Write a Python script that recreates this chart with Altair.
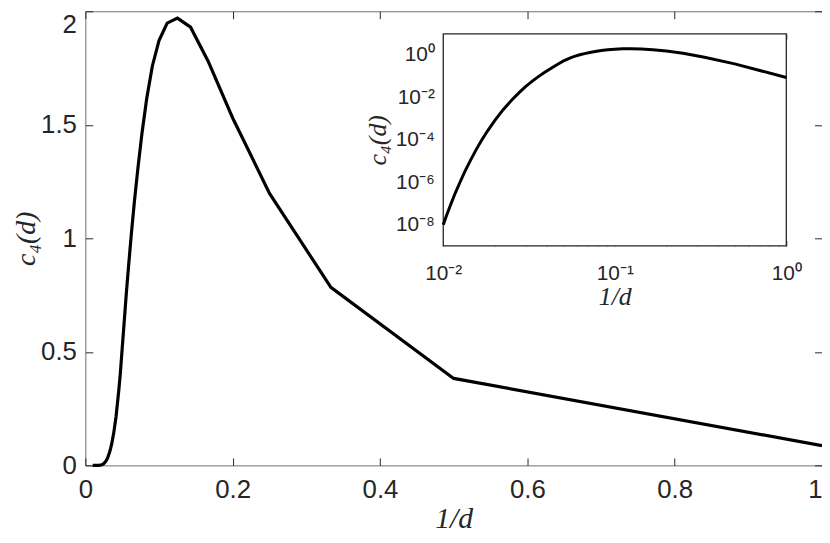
import altair as alt
import pandas as pd

# ---- data ----
d_vals = [1, 2, 3, 4, 5, 6, 7, 8, 9, 10, 11, 12, 13, 14, 15, 16, 17, 18, 19, 20,
          21, 22, 24, 26, 28, 30, 33, 36, 40, 45, 50, 55, 60, 65, 70, 75, 80, 85,
          90, 95, 100]
c4_vals = [0.087, 0.383, 0.784, 1.198, 1.53, 1.78, 1.93, 1.97, 1.948, 1.871,
           1.758, 1.616, 1.464, 1.31, 1.164, 1.021, 0.883, 0.754, 0.627, 0.514,
           0.41, 0.332, 0.214, 0.141, 0.093, 0.0617, 0.0331, 0.0174, 0.0074, 0.00251,
           8.3e-4, 2.75e-4, 9.1e-5, 2.95e-5, 9.5e-6, 3.1e-6, 9.8e-7, 3.2e-7,
           1.0e-7, 3.2e-8, 1e-8]

main_x_ticks = [0, 0.2, 0.4, 0.6, 0.8, 1]
main_y_ticks = [0, 0.5, 1, 1.5, 2]
inset_x_major = [0.01, 0.1, 1]
inset_x_ticks = [0.01, 0.02, 0.03, 0.04, 0.05, 0.06, 0.07, 0.08, 0.09,
                 0.1, 0.2, 0.3, 0.4, 0.5, 0.6, 0.7, 0.8, 0.9, 1]
inset_y_ticks = [1e-8, 1e-6, 1e-4, 1e-2, 1]

df = pd.DataFrame({"d": d_vals, "c4": c4_vals})
df["inv_d"] = 1.0 / df["d"]
df = df.sort_values("inv_d")

# ---- geometry ----
W, H = 743, 458
TK = 7.5           # main tick length
IL, IR = 361, 707  # inset x range (px within plot)
IT, IB = 22.7, 236.7  # inset y range
ITK = 5.5

AX = "#262626"
SANS = "Liberation Sans"
SERIF = "Liberation Serif"

mx = alt.Scale(domain=[0, 1], nice=False, zero=False)
my = alt.Scale(domain=[0, 2], nice=False, zero=False)
ix = alt.Scale(type="log", domain=[0.01, 1], range=[IL, IR], nice=False)
iy = alt.Scale(type="log", domain=[1e-9, 10], range=[IB, IT], nice=False)

base = alt.Chart(df)

# main curve with labelled axes (ticks drawn inward by the offset)
main = base.mark_line(color="black", strokeWidth=3.2).encode(
    x=alt.X("inv_d:Q", scale=mx, axis=alt.Axis(
        orient="bottom", values=main_x_ticks, format="~g", offset=-TK, tickSize=TK,
        domain=False, grid=False, labelPadding=11, tickColor=AX, labelFlush=False,
        labelAlign={"condition": {"test": "datum.value == 1", "value": "right"}, "value": "center"},
        labelFont=SANS, labelFontSize=26, labelColor=AX,
        title="1/d", titleFont=SERIF, titleFontStyle="italic", titleFontWeight="normal",
        titleFontSize=30, titleColor=AX, titlePadding=2)),
    y=alt.Y("c4:Q", scale=my, axis=alt.Axis(
        orient="left", values=main_y_ticks, format="~g", offset=-TK, tickSize=TK,
        domain=False, grid=False, labelPadding=9, tickColor=AX, labelFlush=False,
        labelBaseline={"condition": {"test": "datum.value == 2", "value": "top"}, "value": "middle"},
        labelFont=SANS, labelFontSize=26, labelColor=AX,
        title="c₄(d)", titleFont=SERIF, titleFontStyle="italic", titleFontWeight="normal",
        titleFontSize=28, titleColor=AX, titlePadding=0)),
)

# mirror ticks on top / right of main plot
main_mirror = base.mark_line(opacity=0).encode(
    x=alt.X("inv_d:Q", scale=mx, axis=alt.Axis(
        orient="bottom", values=main_x_ticks, offset=-H, tickSize=TK, labels=False,
        domain=False, grid=False, tickColor=AX, title=None)),
    y=alt.Y("c4:Q", scale=my, axis=alt.Axis(
        orient="left", values=main_y_ticks, offset=-W, tickSize=TK, labels=False,
        domain=False, grid=False, tickColor=AX, title=None)),
)

x_lab = ("datum.value == 0.01 ? '10⁻²' : datum.value == 0.1 ? '10⁻¹' : "
         "datum.value == 1 ? '10⁰' : ''")
y_lab = ("datum.value == 1e-8 ? '10⁻⁸' : datum.value == 1e-6 ? '10⁻⁶' : "
         "datum.value == 1e-4 ? '10⁻⁴' : datum.value == 1e-2 ? '10⁻²' : "
         "datum.value == 1 ? '10⁰' : ''")

frame = alt.Chart(pd.DataFrame({"k": [0]})).mark_rect(
    fill="white", stroke=AX, strokeWidth=1.3
).encode(
    x=alt.datum(0.01, scale=ix, axis=alt.Axis(
        orient="bottom", values=inset_x_major, labelExpr=x_lab, offset=IB - H,
        ticks=False, tickSize=0, domain=False, grid=False, labelPadding=17,
        labelFlush=False,
        labelFont=SANS, labelFontSize=21, labelColor=AX,
        title="1/d", titleFont=SERIF, titleFontStyle="italic", titleFontWeight="normal",
        titleFontSize=26, titleColor=AX, titlePadding=0)),
    x2=alt.datum(1),
    y=alt.datum(1e-9, scale=iy, axis=alt.Axis(
        orient="left", values=inset_y_ticks, labelExpr=y_lab, offset=-IL,
        ticks=False, tickSize=0, domain=False, grid=False, labelPadding=9,
        labelFlush=False,
        labelFont=SANS, labelFontSize=21, labelColor=AX,
        title="c₄(d)", titleFont=SERIF, titleFontStyle="italic", titleFontWeight="normal",
        titleFontSize=26, titleColor=AX, titlePadding=5)),
    y2=alt.datum(10),
)

inset_line = base.mark_line(color="black", strokeWidth=3).encode(
    x=alt.X("inv_d:Q", scale=ix),
    y=alt.Y("c4:Q", scale=iy),
)

inset = alt.layer(frame, inset_line)

minor_size = {"condition": {"test": "datum.value == 0.01 || datum.value == 0.1 || datum.value == 1",
                            "value": ITK}, "value": 3}

inset_ticks_bl = base.mark_line(opacity=0).encode(
    x=alt.X("inv_d:Q", scale=ix, axis=alt.Axis(
        orient="top", values=inset_x_ticks, offset=-IB, tickSize=minor_size,
        labels=False, domain=False, grid=False, tickColor=AX, title=None)),
    y=alt.Y("c4:Q", scale=iy, axis=alt.Axis(
        orient="right", values=inset_y_ticks, offset=IL - W, tickSize=ITK,
        labels=False, domain=False, grid=False, tickColor=AX, title=None)),
)

inset_ticks_tr = base.mark_line(opacity=0).encode(
    x=alt.X("inv_d:Q", scale=ix, axis=alt.Axis(
        orient="bottom", values=inset_x_ticks, offset=IT - H, tickSize=minor_size,
        labels=False, domain=False, grid=False, tickColor=AX, title=None)),
    y=alt.Y("c4:Q", scale=iy, axis=alt.Axis(
        orient="left", values=inset_y_ticks, offset=-IR, tickSize=ITK,
        labels=False, domain=False, grid=False, tickColor=AX, title=None)),
)

chart = alt.layer(
    main, main_mirror, inset, inset_ticks_bl, inset_ticks_tr
).resolve_scale(
    x="independent", y="independent"
).properties(
    width=W, height=H,
    autosize=alt.AutoSizeParams(type="none"),
    padding={"left": 78, "top": 1, "right": 0, "bottom": 76},
).configure_view(
    stroke="#6f6f6f", strokeWidth=1
).configure_axis(
    tickWidth=1
)

chart.save("out.html", embed_options={"renderer": "svg", "actions": False})
